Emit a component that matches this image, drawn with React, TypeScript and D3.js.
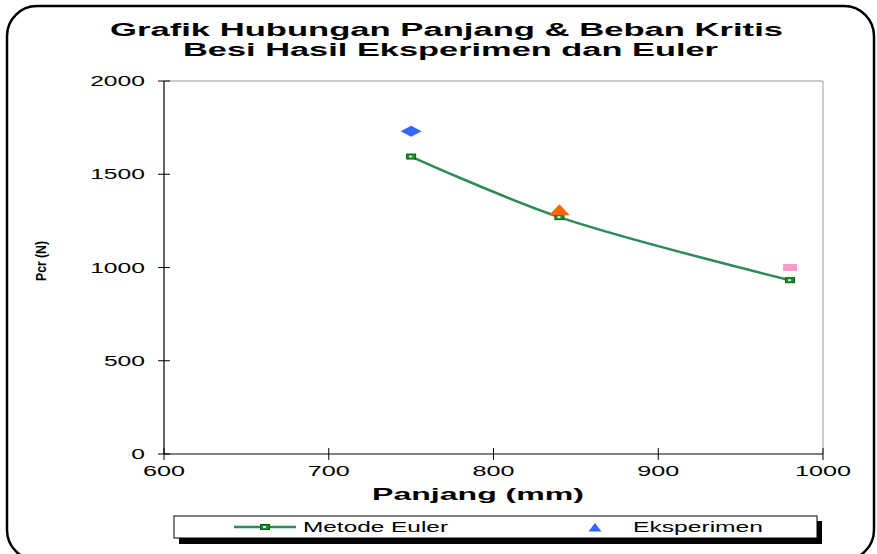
import React from "react";
import * as d3 from "d3";

// Critical load vs. column length
const lengths = [750, 840, 980];
const eulerLoads = [1595, 1270, 932];
const experimentLoads = [1730, 1310, 1000];
const experimentShapes = ["diamond", "triangle", "square"];
const experimentColors = ["#3366ff", "#ff6600", "#ff99cc"];
const xTicks = [600, 700, 800, 900, 1000];
const yTicks = [0, 500, 1000, 1500, 2000];

const W = 877;
const H = 554;
const FONT = "Arial, 'Liberation Sans', Helvetica, sans-serif";

export default function App() {
  const x = d3.scaleLinear().domain([600, 1000]).range([164, 823]);
  const y = d3.scaleLinear().domain([0, 2000]).range([454, 81]);

  const eulerPts: [number, number][] = lengths.map((l, i) => [x(l), y(eulerLoads[i])]);
  const line = d3.line().curve(d3.curveCatmullRom.alpha(0.5))(eulerPts) || "";

  const marker = (shape: string, cx: number, cy: number, color: string, key: string) => {
    if (shape === "diamond") {
      const p = d3.path();
      p.moveTo(cx - 10.5, cy);
      p.lineTo(cx, cy - 5.5);
      p.lineTo(cx + 10.5, cy);
      p.lineTo(cx, cy + 5.5);
      p.closePath();
      return <path key={key} d={p.toString()} fill={color} />;
    }
    if (shape === "triangle") {
      const p = d3.path();
      p.moveTo(cx - 10.5, cy + 5.5);
      p.lineTo(cx, cy - 5.5);
      p.lineTo(cx + 10.5, cy + 5.5);
      p.closePath();
      return <path key={key} d={p.toString()} fill={color} />;
    }
    return <rect key={key} x={cx - 7} y={cy - 3.5} width={14} height={7} fill={color} />;
  };

  const eulerMarker = (cx: number, cy: number, key: string) => (
    <g key={key}>
      <rect x={cx - 4.5} y={cy - 2.5} width={9} height={5} fill="#1f8a3a" stroke="#006400" strokeWidth={1} />
      <rect x={cx - 2} y={cy - 1} width={3} height={2} fill="#cfeecf" />
    </g>
  );

  const digitW = 13.7;

  return (
    <svg width={W} height={H} style={{ display: "block", position: "absolute", left: 0, top: 0 }} fontFamily={FONT}>
      <rect x={0} y={0} width={W} height={H} fill="#ffffff" />
      {/* outer chart frame */}
      <rect x={7} y={6} width={867} height={554} rx={30} ry={30} fill="none" stroke="#000" strokeWidth={2.5} />

      {/* title */}
      <text x={446.5} y={36} textAnchor="middle" fontSize={18} fontWeight="bold" textLength={673} lengthAdjust="spacingAndGlyphs">
        Grafik Hubungan Panjang &amp; Beban Kritis
      </text>
      <text x={450.5} y={56} textAnchor="middle" fontSize={18} fontWeight="bold" textLength={535} lengthAdjust="spacingAndGlyphs">
        Besi Hasil Eksperimen dan Euler
      </text>

      {/* plot area border (top / right) */}
      <line x1={x(600)} x2={x(1000)} y1={y(2000)} y2={y(2000)} stroke="#999" strokeWidth={1} />
      <line x1={x(1000)} x2={x(1000)} y1={y(2000)} y2={y(0)} stroke="#999" strokeWidth={1} />

      {/* axes */}
      <line x1={x(600)} x2={x(600)} y1={y(2000)} y2={y(0)} stroke="#000" strokeWidth={1.2} />
      <line x1={x(600)} x2={x(1000)} y1={y(0)} y2={y(0)} stroke="#000" strokeWidth={1.2} />

      {yTicks.map((t) => (
        <g key={"y" + t}>
          <line x1={x(600) - 6} x2={x(600) + 6} y1={y(t)} y2={y(t)} stroke="#000" strokeWidth={1} />
          <text
            x={145}
            y={y(t) + 5}
            textAnchor="end"
            fontSize={14}
            textLength={String(t).length * digitW}
            lengthAdjust="spacingAndGlyphs"
          >
            {t}
          </text>
        </g>
      ))}
      {xTicks.map((t) => (
        <g key={"x" + t}>
          <line x1={x(t)} x2={x(t)} y1={y(0) - 6} y2={y(0) + 6} stroke="#000" strokeWidth={1} />
          <text
            x={x(t)}
            y={476}
            textAnchor="middle"
            fontSize={14}
            textLength={String(t).length * 14}
            lengthAdjust="spacingAndGlyphs"
          >
            {t}
          </text>
        </g>
      ))}

      {/* axis titles */}
      <text x={478} y={500} textAnchor="middle" fontSize={17} fontWeight="bold" textLength={212} lengthAdjust="spacingAndGlyphs">
        Panjang (mm)
      </text>
      <text
        transform="translate(46,261) rotate(-90)"
        textAnchor="middle"
        fontSize={15}
        fontWeight="bold"
        textLength={40}
        lengthAdjust="spacingAndGlyphs"
      >
        Pcr (N)
      </text>

      {/* Euler curve */}
      <path d={line} fill="none" stroke="#2e8b57" strokeWidth={2.5} />
      {eulerPts.map(([px, py], i) => eulerMarker(px, py, "e" + i))}

      {/* experimental points */}
      {lengths.map((l, i) => marker(experimentShapes[i], x(l), y(experimentLoads[i]), experimentColors[i], "x" + i))}

      {/* legend */}
      <rect x={179} y={521} width={643} height={23} fill="#000" />
      <rect x={174} y={516} width={643} height={22} fill="#fff" stroke="#000" strokeWidth={1} />
      <line x1={234} x2={296} y1={527} y2={527} stroke="#2e8b57" strokeWidth={2.5} />
      {eulerMarker(265, 527, "legend-e")}
      <text x={303} y={532} fontSize={15} textLength={145} lengthAdjust="spacingAndGlyphs">
        Metode Euler
      </text>
      <path d="M588.5,531.5 L595,523 L601.5,531.5 Z" fill="#3366ff" />
      <text x={633} y={532} fontSize={15} textLength={130} lengthAdjust="spacingAndGlyphs">
        Eksperimen
      </text>
    </svg>
  );
}
